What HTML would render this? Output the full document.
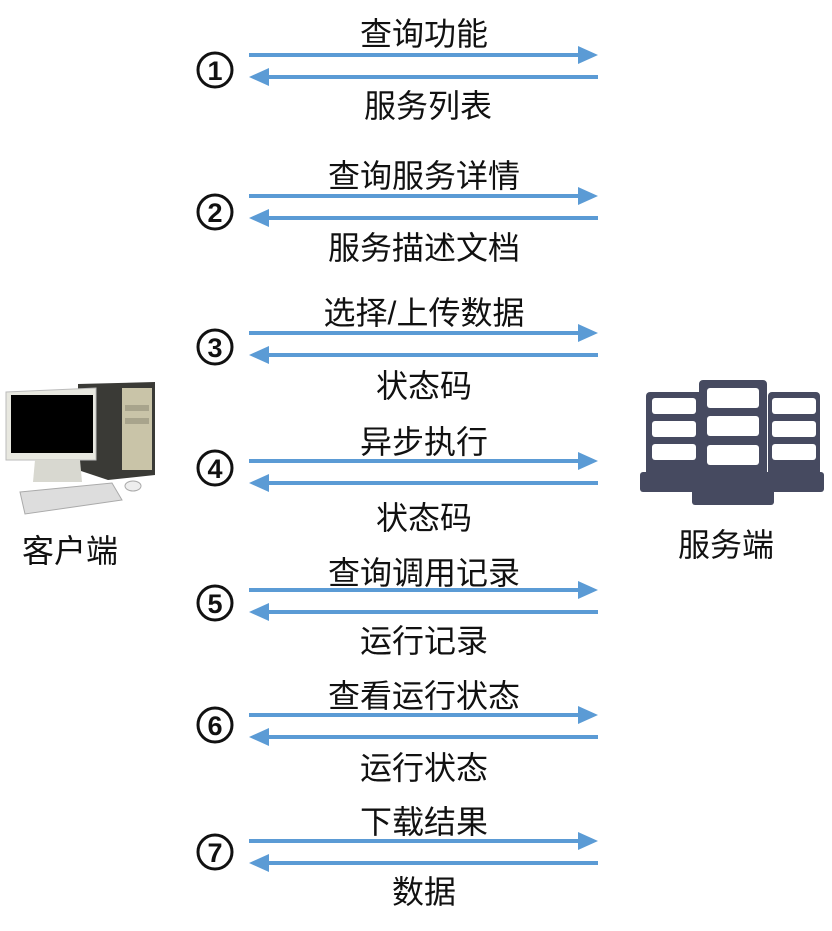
<!DOCTYPE html>
<html><head><meta charset="utf-8"><style>
html,body{margin:0;padding:0;background:#fff;}
svg{display:block;}
text{font-family:"Liberation Sans","Noto Sans CJK SC",sans-serif;fill:#111;}
</style></head><body>
<svg width="832" height="931" viewBox="0 0 832 931" xmlns="http://www.w3.org/2000/svg">
<defs>
<g id="pair">
<line x1="249" y1="0" x2="580" y2="0" stroke="#5b9bd5" stroke-width="4"/>
<polygon points="598,0 578,-9 578,9" fill="#5b9bd5"/>
<line x1="267" y1="22" x2="598" y2="22" stroke="#5b9bd5" stroke-width="4"/>
<polygon points="249,22 269,13 269,31" fill="#5b9bd5"/>
</g>
</defs>
<g font-size="32" text-anchor="middle">
<use href="#pair" y="55"/><text x="424" y="45">查询功能</text><text x="428" y="117">服务列表</text>
<use href="#pair" y="196"/><text x="424" y="187">查询服务详情</text><text x="424" y="259">服务描述文档</text>
<use href="#pair" y="333"/><text x="424" y="324">选择/上传数据</text><text x="424" y="397">状态码</text>
<use href="#pair" y="461"/><text x="424" y="453">异步执行</text><text x="424" y="529">状态码</text>
<use href="#pair" y="590"/><text x="424" y="584">查询调用记录</text><text x="424" y="652">运行记录</text>
<use href="#pair" y="715"/><text x="424" y="707">查看运行状态</text><text x="424" y="779">运行状态</text>
<use href="#pair" y="841"/><text x="424" y="833">下载结果</text><text x="424" y="903">数据</text>
<text x="70" y="562">客户端</text>
<text x="726" y="556">服务端</text>
</g>
<g fill="none" stroke="#111" stroke-width="3">
<circle cx="215" cy="70" r="17"/><circle cx="215" cy="212" r="17"/><circle cx="215" cy="347" r="17"/><circle cx="215" cy="468" r="17"/><circle cx="215" cy="603" r="17"/><circle cx="215" cy="725" r="17"/><circle cx="215" cy="852" r="17"/>
</g>
<g font-size="27" text-anchor="middle" font-weight="bold" font-family="Liberation Sans">
<text x="215" y="80">1</text><text x="215" y="222">2</text><text x="215" y="357">3</text><text x="215" y="478">4</text><text x="215" y="613">5</text><text x="215" y="735">6</text><text x="215" y="862">7</text>
</g>
<!-- computer -->
<polygon points="78,384 155,382 155,475 108,480 78,470" fill="#3a3a36"/>
<rect x="122" y="388" width="30" height="82" fill="#c9c4a8"/>
<rect x="125" y="405" width="24" height="6" fill="#a8a48c"/>
<rect x="125" y="418" width="24" height="6" fill="#a8a48c"/>
<polygon points="6,392 96,388 96,460 6,460" fill="#e8e8e0" stroke="#bbb"/>
<rect x="11" y="395" width="82" height="58" fill="#000"/>
<polygon points="35,460 80,460 82,482 33,482" fill="#d8d8d0"/>
<polygon points="20,492 112,483 122,500 25,514" fill="#ddd" stroke="#aaa"/>
<ellipse cx="133" cy="486" rx="8" ry="5" fill="#eee" stroke="#aaa"/>
<!-- servers -->
<g fill="#464a60">
<rect x="646" y="392" width="58" height="100" rx="4"/>
<rect x="768" y="392" width="52" height="100" rx="4"/>
<rect x="640" y="472" width="60" height="20" rx="3"/>
<rect x="762" y="472" width="62" height="20" rx="3"/>
<rect x="699" y="380" width="68" height="100" rx="4"/>
<rect x="692" y="480" width="82" height="25" rx="3"/>
</g>
<g fill="#fff">
<rect x="652" y="398" width="44" height="16" rx="3"/><rect x="652" y="421" width="44" height="16" rx="3"/><rect x="652" y="444" width="44" height="16" rx="3"/>
<rect x="707" y="388" width="52" height="20" rx="3"/><rect x="707" y="416" width="52" height="20" rx="3"/><rect x="707" y="445" width="52" height="20" rx="3"/>
<rect x="772" y="398" width="44" height="16" rx="3"/><rect x="772" y="421" width="44" height="16" rx="3"/><rect x="772" y="444" width="44" height="16" rx="3"/>
</g>
</svg>
</body></html>
